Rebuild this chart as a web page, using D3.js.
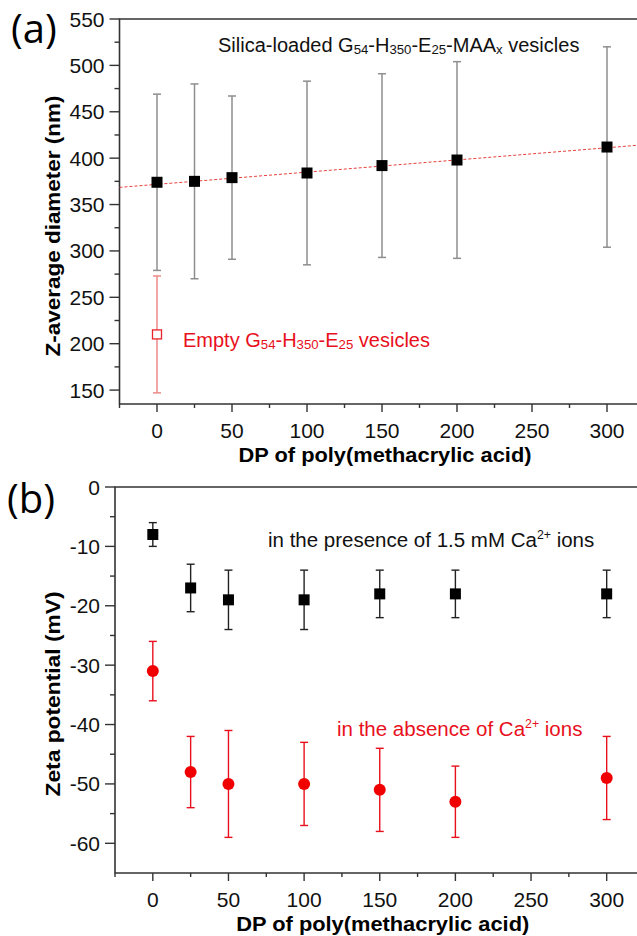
<!DOCTYPE html>
<html>
<head>
<meta charset="utf-8">
<script src="https://cdn.jsdelivr.net/npm/d3@7"></script>
<style>
  body { margin: 0; background: #fff; }
  svg { display: block; font-family: "Liberation Sans", Arial, sans-serif; }
</style>
</head>
<body>
<div id="chart"></div>
<script>
// ---- data ----
const dp = [0, 25, 50, 100, 150, 200, 300];

// (a) silica-loaded vesicles: mean, lower, upper (nm)
const sizeMean = [374, 375, 379, 384, 392, 398, 412];
const sizeLow  = [279, 270, 291, 285, 293, 292, 304];
const sizeHigh = [469, 480, 467, 483, 491, 504, 520];

// (a) empty vesicles at DP 0
const emptyMean = 210, emptyLow = 147, emptyHigh = 273;

// (a) linear fit end points [dp, nm]
const fitLine = [[-25, 368.5], [325, 414.5]];

// (b) zeta potential (mV) with Ca2+
const zetaCa     = [-8, -17, -19, -19, -18, -18, -18];
const zetaCaLow  = [-10, -21, -24, -24, -22, -22, -22];
const zetaCaHigh = [-6, -13, -14, -14, -14, -14, -14];

// (b) zeta potential (mV) without Ca2+
const zetaNo     = [-31, -48, -50, -50, -51, -53, -49];
const zetaNoLow  = [-36, -54, -59, -57, -58, -59, -56];
const zetaNoHigh = [-26, -42, -41, -43, -44, -47, -42];

const xMajor = [0, 50, 100, 150, 200, 250, 300];
const xMinor = [-25, 25, 75, 125, 175, 225, 275];
const yMajorA = [150, 200, 250, 300, 350, 400, 450, 500, 550];
const yMinorA = [175, 225, 275, 325, 375, 425, 475, 525];
const yMajorB = [-60, -50, -40, -30, -20, -10, 0];
const yMinorB = [-55, -45, -35, -25, -15, -5];

const W = 637, H = 936;
const axisColor = '#333';

const svg = d3.select('#chart').append('svg')
  .attr('width', W).attr('height', H);

// draws frame, ticks and labels for one panel
function drawAxes(g, x, y, yMaj, yMin, yTitle, yTitleY, yTitleLen) {
  const [x0] = x.range();
  const [yb, yt] = y.range();

  // left axis, bottom axis, top border
  g.append('path')
    .attr('d', `M${W},${yt}H${x0}V${yb}H${W}`)
    .attr('fill', 'none').attr('stroke', axisColor).attr('stroke-width', 1.6);

  g.selectAll('.xmaj').data(xMajor).enter().append('line')
    .attr('x1', d => x(d)).attr('x2', d => x(d))
    .attr('y1', yb).attr('y2', yb + 8)
    .attr('stroke', axisColor).attr('stroke-width', 1.4);
  g.selectAll('.xmin').data(xMinor).enter().append('line')
    .attr('x1', d => x(d)).attr('x2', d => x(d))
    .attr('y1', yb).attr('y2', yb + 4)
    .attr('stroke', axisColor).attr('stroke-width', 1.4);
  g.selectAll('.xlab').data(xMajor).enter().append('text')
    .attr('x', d => x(d)).attr('y', yb + 34)
    .attr('text-anchor', 'middle').attr('font-size', 21).attr('fill', '#111')
    .text(d => d);

  g.selectAll('.ymaj').data(yMaj).enter().append('line')
    .attr('x1', x0 - 10).attr('x2', x0)
    .attr('y1', d => y(d)).attr('y2', d => y(d))
    .attr('stroke', axisColor).attr('stroke-width', 1.4);
  g.selectAll('.ymin').data(yMin).enter().append('line')
    .attr('x1', x0 - 5).attr('x2', x0)
    .attr('y1', d => y(d)).attr('y2', d => y(d))
    .attr('stroke', axisColor).attr('stroke-width', 1.4);
  g.selectAll('.ylab').data(yMaj).enter().append('text')
    .attr('x', x0 - 15).attr('y', d => y(d) + 7.5)
    .attr('text-anchor', 'end').attr('font-size', 21).attr('fill', '#111')
    .text(d => d);

  g.append('text')
    .attr('x', x(150) + 3).attr('y', yb + 58)
    .attr('text-anchor', 'middle').attr('font-size', 19.5).attr('font-weight', 'bold')
    .attr('textLength', 293).attr('lengthAdjust', 'spacingAndGlyphs')
    .text('DP of poly(methacrylic acid)');

  g.append('text')
    .attr('transform', `translate(60,${yTitleY}) rotate(-90)`)
    .attr('text-anchor', 'middle').attr('font-size', 21).attr('font-weight', 'bold')
    .attr('textLength', yTitleLen).attr('lengthAdjust', 'spacingAndGlyphs')
    .text(yTitle);
}

function errorBars(g, xs, lo, hi, x, y, color, cap, width) {
  const sel = g.append('g');
  xs.forEach((d, i) => {
    sel.append('line')
      .attr('x1', x(d)).attr('x2', x(d)).attr('y1', y(lo[i])).attr('y2', y(hi[i]))
      .attr('stroke', color).attr('stroke-width', width);
    [lo[i], hi[i]].forEach(v => {
      sel.append('line')
        .attr('x1', x(d) - cap).attr('x2', x(d) + cap).attr('y1', y(v)).attr('y2', y(v))
        .attr('stroke', color).attr('stroke-width', width);
    });
  });
}

// text with sub/superscripts: parts = [[text, kind]]
function richText(g, px, py, parts, size, color) {
  const t = g.append('text').attr('x', px).attr('y', py)
    .attr('font-size', size).attr('fill', color);
  let offset = 0;
  parts.forEach(([s, kind]) => {
    const target = kind === 'sub' ? 1.5 : kind === 'sup' ? -8 : 0;
    const sp = t.append('tspan').attr('dy', target - offset).text(s);
    offset = target;
    if (kind === 'sub') sp.attr('font-size', size * 0.66);
    if (kind === 'sup') sp.attr('font-size', size * 0.6);
  });
  return t;
}

// ---------- panel (a) ----------
const xa = d3.scaleLinear().domain([-25, 325]).range([119.5, 644.5]);
const ya = d3.scaleLinear().domain([135, 550]).range([404, 19]);
const ga = svg.append('g');

drawAxes(ga, xa, ya, yMajorA, yMinorA, 'Z-average diameter (nm)', 226, 261);

ga.append('path')
  .attr('d', d3.line().x(d => xa(d[0])).y(d => ya(d[1]))(fitLine))
  .attr('fill', 'none').attr('stroke', '#e8403c').attr('stroke-width', 1)
  .attr('stroke-dasharray', '3,2');

errorBars(ga, dp, sizeLow, sizeHigh, xa, ya, '#8e8e8e', 4, 1.5);
errorBars(ga, [0], [emptyLow], [emptyHigh], xa, ya, '#ee8a8a', 4, 1.5);

ga.selectAll('.sq').data(dp).enter().append('rect')
  .attr('x', (d) => xa(d) - 5.5).attr('y', (d, i) => ya(sizeMean[i]) - 5.5)
  .attr('width', 11).attr('height', 11).attr('fill', '#000');

ga.append('rect')
  .attr('x', xa(0) - 4.5).attr('y', ya(emptyMean) - 4.5)
  .attr('width', 9).attr('height', 9)
  .attr('fill', '#fff').attr('stroke', '#e8222a').attr('stroke-width', 1.3);

richText(ga, 218, 52, [['Silica-loaded G'], ['54', 'sub'], ['-H'], ['350', 'sub'],
  ['-E'], ['25', 'sub'], ['-MAA'], ['x', 'sub'], [' vesicles']], 20, '#111');
richText(ga, 183, 347, [['Empty G'], ['54', 'sub'], ['-H'], ['350', 'sub'],
  ['-E'], ['25', 'sub'], [' vesicles']], 20, '#e8101c');

svg.append('text').attr('x', 11).attr('y', 43)
  .attr('font-family', '"Open Sans", sans-serif').attr('font-size', 40)
  .text('(a)');

// ---------- panel (b) ----------
const xb = d3.scaleLinear().domain([-25, 325]).range([115, 644.5]);
const yb = d3.scaleLinear().domain([-65, 0]).range([873, 487]);
const gb = svg.append('g');

drawAxes(gb, xb, yb, yMajorB, yMinorB, 'Zeta potential (mV)', 694, 205);

errorBars(gb, dp, zetaCaLow, zetaCaHigh, xb, yb, '#222', 4, 1.4);
errorBars(gb, dp, zetaNoLow, zetaNoHigh, xb, yb, '#e8101c', 4, 1.4);

gb.selectAll('.sq').data(dp).enter().append('rect')
  .attr('x', d => xb(d) - 5.5).attr('y', (d, i) => yb(zetaCa[i]) - 5.5)
  .attr('width', 11).attr('height', 11).attr('fill', '#000');

gb.selectAll('.dot').data(dp).enter().append('circle')
  .attr('cx', d => xb(d)).attr('cy', (d, i) => yb(zetaNo[i]))
  .attr('r', 6).attr('fill', '#f00000');

richText(gb, 268, 547, [['in the presence of 1.5 mM Ca'], ['2+', 'sup'], [' ions']], 20.5, '#111');
richText(gb, 337, 736, [['in the absence of Ca'], ['2+', 'sup'], [' ions']], 20.5, '#e8101c');

svg.append('text').attr('x', 7).attr('y', 513)
  .attr('font-family', '"Open Sans", sans-serif').attr('font-size', 40)
  .text('(b)');
</script>
</body>
</html>
